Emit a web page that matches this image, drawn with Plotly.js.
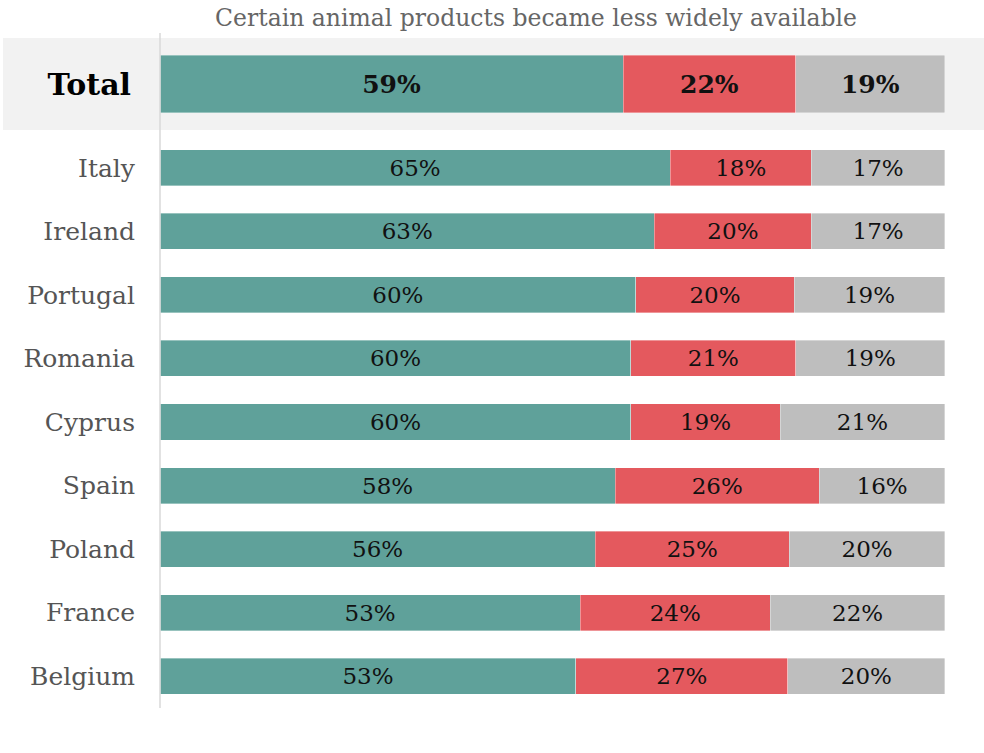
<!DOCTYPE html>
<html>
<head>
<meta charset="utf-8">
<script src="https://cdn.plot.ly/plotly-3.0.1.min.js"></script>
<style>html,body{margin:0;padding:0;background:#fff;}#chart{width:984px;height:753px;}</style>
</head>
<body>
<div id="chart"></div>
<script>
// Data
const countries = ["Italy","Ireland","Portugal","Romania","Cyprus","Spain","Poland","France","Belgium"];
const seriesA = [65,63,60,60,60,58,56,53,53];   // green
const seriesB = [18,20,20,21,19,26,25,24,27];   // red
const seriesC = [17,17,19,19,21,16,20,22,20];   // grey
const totalLabel = ["Total"];
const totalA = [59];
const totalB = [22];
const totalC = [19];
const chartTitle = "Certain animal products became less widely available";

const colors = ["#5fa19a", "#e4595e", "#bebebe"];
const serif = "DejaVu Serif, Georgia, serif";

const H = 753, W = 984;
const mL = 160, mR = 39;
const plotW = W - mL - mR;
const fy = px => 1 - px / H;
const fx = px => (px - mL) / plotW;

function mk(vals, cats, color, yax, width, fontSize, bold) {
  return {
    type: "bar", orientation: "h",
    x: vals, y: cats, yaxis: yax, xaxis: "x",
    marker: {color: color, line: {color: "rgba(255,255,255,0.6)", width: 0.6}},
    text: vals.map(v => (bold ? "<b>" + v + "%</b>" : v + "%")),
    textposition: "inside", insidetextanchor: "middle", textangle: 0,
    constraintext: "none",
    textfont: {family: serif, size: fontSize, color: "#111"},
    width: width,
    hoverinfo: "skip", showlegend: false, cliponaxis: false
  };
}

const data = [
  mk(seriesA, countries, colors[0], "y", 0.567, 23, false),
  mk(seriesB, countries, colors[1], "y", 0.567, 23, false),
  mk(seriesC, countries, colors[2], "y", 0.567, 23, false),
  mk(totalA, totalLabel, colors[0], "y2", 0.63, 25, true),
  mk(totalB, totalLabel, colors[1], "y2", 0.63, 25, true),
  mk(totalC, totalLabel, colors[2], "y2", 0.63, 25, true)
];

const layout = {
  width: W, height: H,
  margin: {l: mL, r: mR, t: 0, b: 0, pad: 0},
  paper_bgcolor: "#ffffff", plot_bgcolor: "rgba(0,0,0,0)",
  barmode: "stack", barnorm: "percent",
  title: {text: chartTitle, font: {family: serif, size: 23.5, color: "#666"},
          x: fx(536), xref: "paper", xanchor: "center",
          y: fy(18), yref: "container", yanchor: "middle"},
  xaxis: {range: [0, 100.02], showgrid: false, zeroline: false, showticklabels: false,
          showline: false, fixedrange: true},
  yaxis: {domain: [fy(708), fy(136)], type: "category", autorange: "reversed",
          showgrid: false, zeroline: false, showline: false, ticks: "",
          ticklabelstandoff: 24,
          tickfont: {family: serif, size: 25, color: "#555"}},
  yaxis2: {domain: [fy(130), fy(38)], type: "category", anchor: "x",
           showgrid: false, zeroline: false, showline: false, ticks: "",
           ticklabelstandoff: 28,
           tickfont: {family: serif, size: 30, color: "#000", weight: "bold"}},
  shapes: [
    {type: "rect", xref: "paper", yref: "paper", x0: fx(3), x1: fx(984),
     y0: fy(130), y1: fy(38), fillcolor: "#f2f2f2", line: {width: 0}, layer: "below"},
    {type: "line", xref: "paper", yref: "paper", x0: 0, x1: 0,
     y0: fy(708), y1: fy(33), line: {color: "#d9d9d9", width: 1.5}, layer: "above"}
  ],
  bargap: 0.43
};

Plotly.newPlot("chart", data, layout, {displayModeBar: false, staticPlot: true});
</script>
</body>
</html>
